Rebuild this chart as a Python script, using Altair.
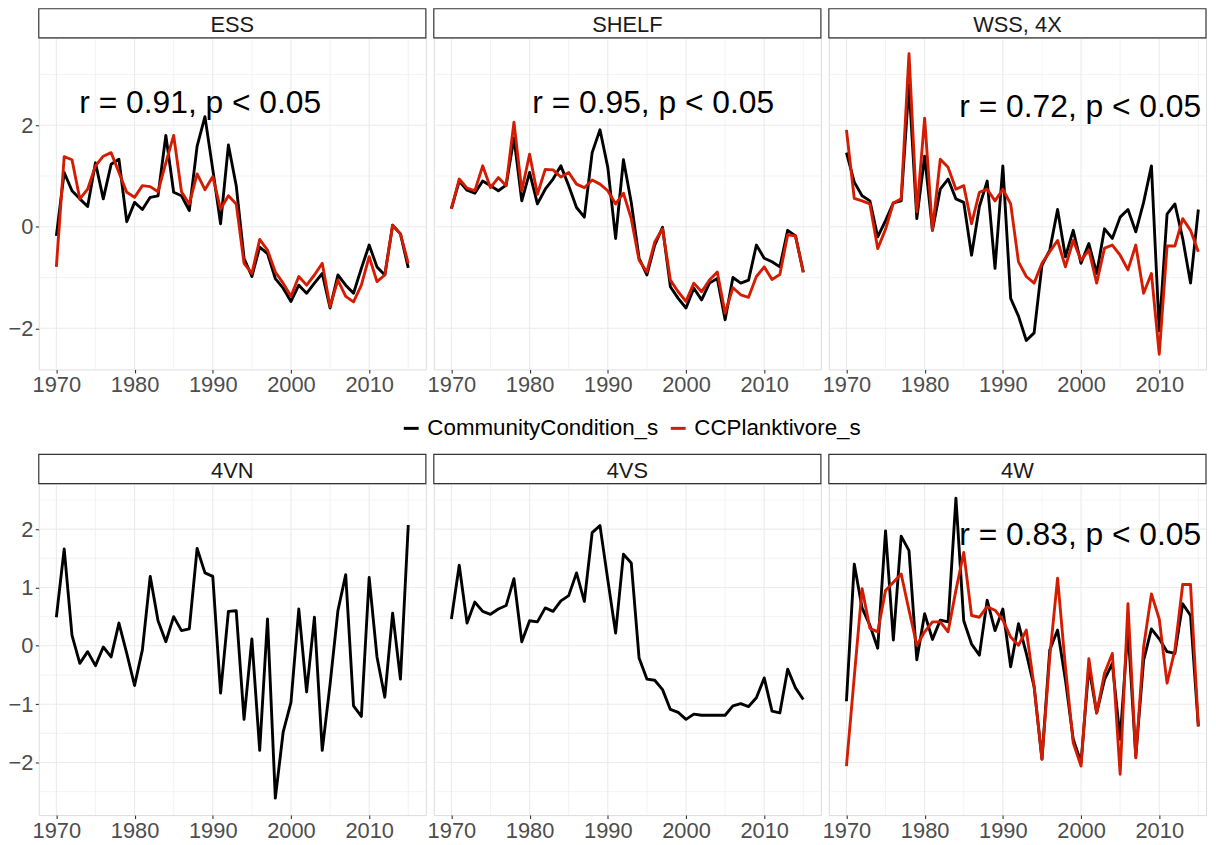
import altair as alt
import pandas as pd

FONT = "Liberation Sans"
YEARS = list(range(1970, 2016))
SERIES = ["CommunityCondition_s", "CCPlanktivore_s"]
COLORS = ["#000000", "#D41C02"]

ess_cc = [-0.18, 1.07, 0.71, 0.55, 0.40, 1.26, 0.55, 1.23, 1.33, 0.10, 0.48, 0.34, 0.58, 0.61, 1.80, 0.68,
          0.61, 0.32, 1.59, 2.17, 1.13, 0.06, 1.61, 0.81, -0.62, -0.98, -0.40, -0.53, -1.02, -1.21, -1.47,
          -1.15, -1.31, -1.11, -0.92, -1.60, -0.95, -1.15, -1.31, -0.82, -0.36, -0.79, -0.95, 0.03, -0.14, -0.81]
ess_pl = [-0.79, 1.38, 1.32, 0.55, 0.74, 1.20, 1.39, 1.46, 1.07, 0.68, 0.58, 0.81, 0.79, 0.69, 1.26, 1.80,
          0.69, 0.45, 1.04, 0.73, 0.99, 0.35, 0.61, 0.45, -0.72, -0.92, -0.25, -0.46, -0.89, -1.11, -1.37,
          -0.98, -1.15, -0.95, -0.72, -1.57, -1.05, -1.37, -1.48, -1.15, -0.59, -1.08, -0.95, 0.03, -0.14, -0.72]
shelf_cc = [0.36, 0.90, 0.72, 0.66, 0.90, 0.81, 0.71, 0.82, 1.75, 0.51, 1.07, 0.45, 0.74, 0.94, 1.20, 0.81,
            0.38, 0.19, 1.46, 1.91, 1.17, -0.23, 1.32, 0.48, -0.62, -0.95, -0.36, -0.01, -1.18, -1.41, -1.60,
            -1.21, -1.44, -1.11, -1.02, -1.83, -1.00, -1.11, -1.05, -0.36, -0.62, -0.69, -0.79, -0.07, -0.18, -0.89]
shelf_pl = [0.35, 0.94, 0.76, 0.71, 1.20, 0.77, 0.97, 0.81, 2.06, 0.71, 1.43, 0.64, 1.13, 1.12, 0.98, 1.07,
            0.84, 0.77, 0.92, 0.84, 0.71, 0.45, 0.66, 0.16, -0.66, -0.89, -0.30, -0.04, -1.05, -1.28, -1.47,
            -1.11, -1.28, -1.05, -0.89, -1.70, -1.20, -1.34, -1.39, -0.98, -0.79, -1.04, -0.94, -0.16, -0.18, -0.90]
wss_cc = [1.46, 0.88, 0.61, 0.51, -0.20, 0.12, 0.47, 0.51, 2.80, 0.16, 1.39, -0.07, 0.74, 0.94, 0.55, 0.48,
          -0.56, 0.40, 0.90, -0.82, 1.20, -1.41, -1.76, -2.24, -2.09, -0.76, -0.46, 0.34, -0.59, -0.07, -0.72,
          -0.33, -0.92, -0.04, -0.23, 0.19, 0.34, -0.10, 0.48, 1.20, -2.05, 0.25, 0.45, -0.23, -1.11, 0.34]
wss_pl = [1.91, 0.56, 0.51, 0.45, -0.43, -0.05, 0.47, 0.55, 3.41, 0.29, 2.14, -0.07, 1.33, 1.17, 0.74, 0.81,
          0.06, 0.68, 0.74, 0.51, 0.74, 0.45, -0.69, -0.98, -1.11, -0.72, -0.49, -0.27, -0.79, -0.27, -0.66,
          -0.46, -1.11, -0.42, -0.36, -0.56, -0.85, -0.36, -1.31, -0.92, -2.51, -0.38, -0.38, 0.16, -0.07, -0.49]
vn_cc = [0.49, 1.66, 0.18, -0.30, -0.10, -0.34, -0.02, -0.19, 0.39, -0.13, -0.68, -0.07, 1.19, 0.43, 0.07, 0.50,
         0.26, 0.29, 1.67, 1.25, 1.19, -0.81, 0.59, 0.60, -1.26, 0.12, -1.79, 0.46, -2.61, -1.48, -0.97,
         0.63, -0.79, 0.49, -1.79, -0.66, 0.60, 1.22, -1.03, -1.21, 1.17, -0.19, -0.88, 0.56, -0.57, 2.07]
vs_cc = [0.46, 1.38, 0.39, 0.75, 0.59, 0.54, 0.63, 0.69, 1.15, 0.07, 0.43, 0.41, 0.65, 0.59, 0.77, 0.86,
         1.25, 0.76, 1.94, 2.06, 1.13, 0.22, 1.57, 1.42, -0.21, -0.57, -0.59, -0.75, -1.09, -1.14, -1.26,
         -1.17, -1.19, -1.19, -1.19, -1.19, -1.03, -0.99, -1.04, -0.89, -0.55, -1.12, -1.15, -0.40, -0.72, -0.92]
w_cc = [-0.95, 1.40, 0.65, 0.35, -0.04, 1.97, 0.10, 1.88, 1.63, -0.24, 0.55, 0.11, 0.44, 0.41, 2.53, 0.43,
        0.03, -0.16, 0.78, 0.26, 0.63, -0.36, 0.38, -0.13, -0.70, -1.94, -0.07, 0.27, -0.58, -1.60, -2.00,
        -0.36, -1.15, -0.58, -0.30, -1.60, 0.30, -1.89, -0.25, 0.29, 0.12, -0.10, -0.13, 0.72, 0.52, -1.38]
w_pl = [-2.06, -0.53, 0.98, 0.30, 0.24, 0.95, 1.09, 1.23, 0.61, 0.01, 0.24, 0.41, 0.41, 0.24, 0.95, 1.60,
        0.52, 0.49, 0.67, 0.61, 0.44, 0.15, 0.01, 0.27, -0.70, -1.94, -0.19, 1.16, -0.36, -1.66, -2.06,
        -0.22, -1.15, -0.47, -0.13, -2.20, 0.72, -1.92, -0.02, 0.89, 0.46, -0.64, -0.07, 1.05, 1.05, -1.38]

PANELS = ["ESS", "SHELF", "WSS, 4X", "4VN", "4VS", "4W"]
CC = [ess_cc, shelf_cc, wss_cc, vn_cc, vs_cc, w_cc]
PL = [ess_pl, shelf_pl, wss_pl, None, None, w_pl]
ANN_TEXT = ["r = 0.91, p < 0.05", "r = 0.95, p < 0.05", "r = 0.72, p < 0.05", None, None, "r = 0.83, p < 0.05"]
ANN_X = [1988.4, 1995.8, 1999.9, None, None, 1999.9]
ANN_Y = [2.24, 2.24, 2.17, None, None, 1.73]

X_MAJOR = [1970, 1980, 1990, 2000, 2010]
X_MINOR = [1975, 1985, 1995, 2005, 2015]
TOP_Y_MAJOR = [-2, 0, 2]
TOP_Y_MINOR = [-1, 1, 3]
BOT_Y_MAJOR = [-2, -1, 0, 1, 2]
BOT_Y_MINOR = [-2.5, -1.5, -0.5, 0.5, 1.5, 2.5]
TOP_Y_DOMAIN = [-2.81, 3.72]
BOT_Y_DOMAIN = [-2.90, 2.78]
X_MIN = 1967.75

H = 334
PX_PER_YEAR = 390 / 49.5

color_scale = alt.Scale(domain=SERIES, range=COLORS)
legend = alt.Legend(orient="none", legendX=364, legendY=382, direction="horizontal", title=None,
                    symbolType="stroke", symbolStrokeWidth=3, symbolSize=225, labelFontSize=22.5,
                    labelFont=FONT, labelColor="#000000", labelLimit=500, columnPadding=5,
                    labelOffset=5, padding=0)


def panel(i, ydom, ymaj, ymin, show_y, width):
    xmax = X_MIN + width / PX_PER_YEAR
    xs = alt.Scale(domain=[X_MIN, xmax], nice=False, zero=False)
    ys = alt.Scale(domain=ydom, nice=False, zero=False)
    xaxis = alt.Axis(values=X_MAJOR, format="d", grid=False, domain=False, tickColor="#333333",
                     tickSize=3.5, tickWidth=1.1, labelFontSize=22, labelColor="#4D4D4D", labelFont=FONT,
                     labelPadding=2, title=None, labelFlush=False, labelOverlap=False)
    if show_y:
        yaxis = alt.Axis(values=ymaj, format="d", grid=False, domain=False, tickColor="#333333",
                         tickSize=3.5, tickWidth=1.1, labelFontSize=22, labelColor="#4D4D4D",
                         labelFont=FONT, labelPadding=2.5, title=None, labelFlush=False, labelOverlap=False)
    else:
        yaxis = None

    layers = []
    layers.append(alt.Chart(pd.DataFrame({"v": X_MINOR})).mark_rule(color="#EBEBEB", strokeWidth=0.6)
                  .encode(x=alt.X("v:Q", scale=xs, axis=xaxis)))
    layers.append(alt.Chart(pd.DataFrame({"v": ymin})).mark_rule(color="#EBEBEB", strokeWidth=0.6)
                  .encode(y=alt.Y("v:Q", scale=ys, axis=yaxis)))
    layers.append(alt.Chart(pd.DataFrame({"v": X_MAJOR})).mark_rule(color="#EBEBEB", strokeWidth=1.1)
                  .encode(x=alt.X("v:Q", scale=xs, axis=xaxis)))
    layers.append(alt.Chart(pd.DataFrame({"v": ymaj})).mark_rule(color="#EBEBEB", strokeWidth=1.1)
                  .encode(y=alt.Y("v:Q", scale=ys, axis=yaxis)))

    series_list = [(SERIES[0], CC[i])]
    if PL[i] is not None:
        series_list.append((SERIES[1], PL[i]))
    for sname, vals in series_list:
        df = pd.DataFrame({"year": YEARS, "value": vals, "series": sname})
        layers.append(alt.Chart(df).mark_line(strokeWidth=2.9, strokeJoin="round").encode(
            x=alt.X("year:Q", scale=xs, axis=xaxis),
            y=alt.Y("value:Q", scale=ys, axis=yaxis),
            color=alt.Color("series:N", scale=color_scale, legend=legend)))

    if ANN_TEXT[i] is not None:
        adf = pd.DataFrame({"x": [ANN_X[i]], "y": [ANN_Y[i]], "t": [ANN_TEXT[i]]})
        layers.append(alt.Chart(adf).mark_text(fontSize=32, font=FONT, color="#000000", align="center",
                                               baseline="alphabetic").encode(
            x=alt.X("x:Q", scale=xs, axis=xaxis), y=alt.Y("y:Q", scale=ys, axis=yaxis), text="t:N"))

    sdf = pd.DataFrame({"name": [PANELS[i]]})
    layers.append(alt.Chart(sdf).mark_rect(fill="#FFFFFF", stroke="#333333", strokeWidth=1.2).encode(
        x=alt.value(0), x2=alt.value(width), y=alt.value(-29.4), y2=alt.value(0)))
    layers.append(alt.Chart(sdf).mark_text(fontSize=22, font=FONT, color="#1A1A1A", align="center",
                                           baseline="alphabetic").encode(
        x=alt.value(width / 2), y=alt.value(-6), text="name:N"))

    return alt.layer(*layers).properties(width=width, height=H)


widths = [390, 390, 380]
top = alt.hconcat(*[panel(i, TOP_Y_DOMAIN, TOP_Y_MAJOR, TOP_Y_MINOR, i == 0, widths[i]) for i in range(3)],
                  spacing=8, bounds="flush")
bot = alt.hconcat(*[panel(i + 3, BOT_Y_DOMAIN, BOT_Y_MAJOR, BOT_Y_MINOR, i == 0, widths[i]) for i in range(3)],
                  spacing=8, bounds="flush")

chart = alt.vconcat(top, bot, spacing=57).properties(
    padding={"left": -1, "top": -4, "right": 0, "bottom": 0}
).configure_view(stroke="#333333", strokeWidth=1.2).configure(background="#FFFFFF")

chart.save("out.html", embed_options={"renderer": "svg", "actions": False})
